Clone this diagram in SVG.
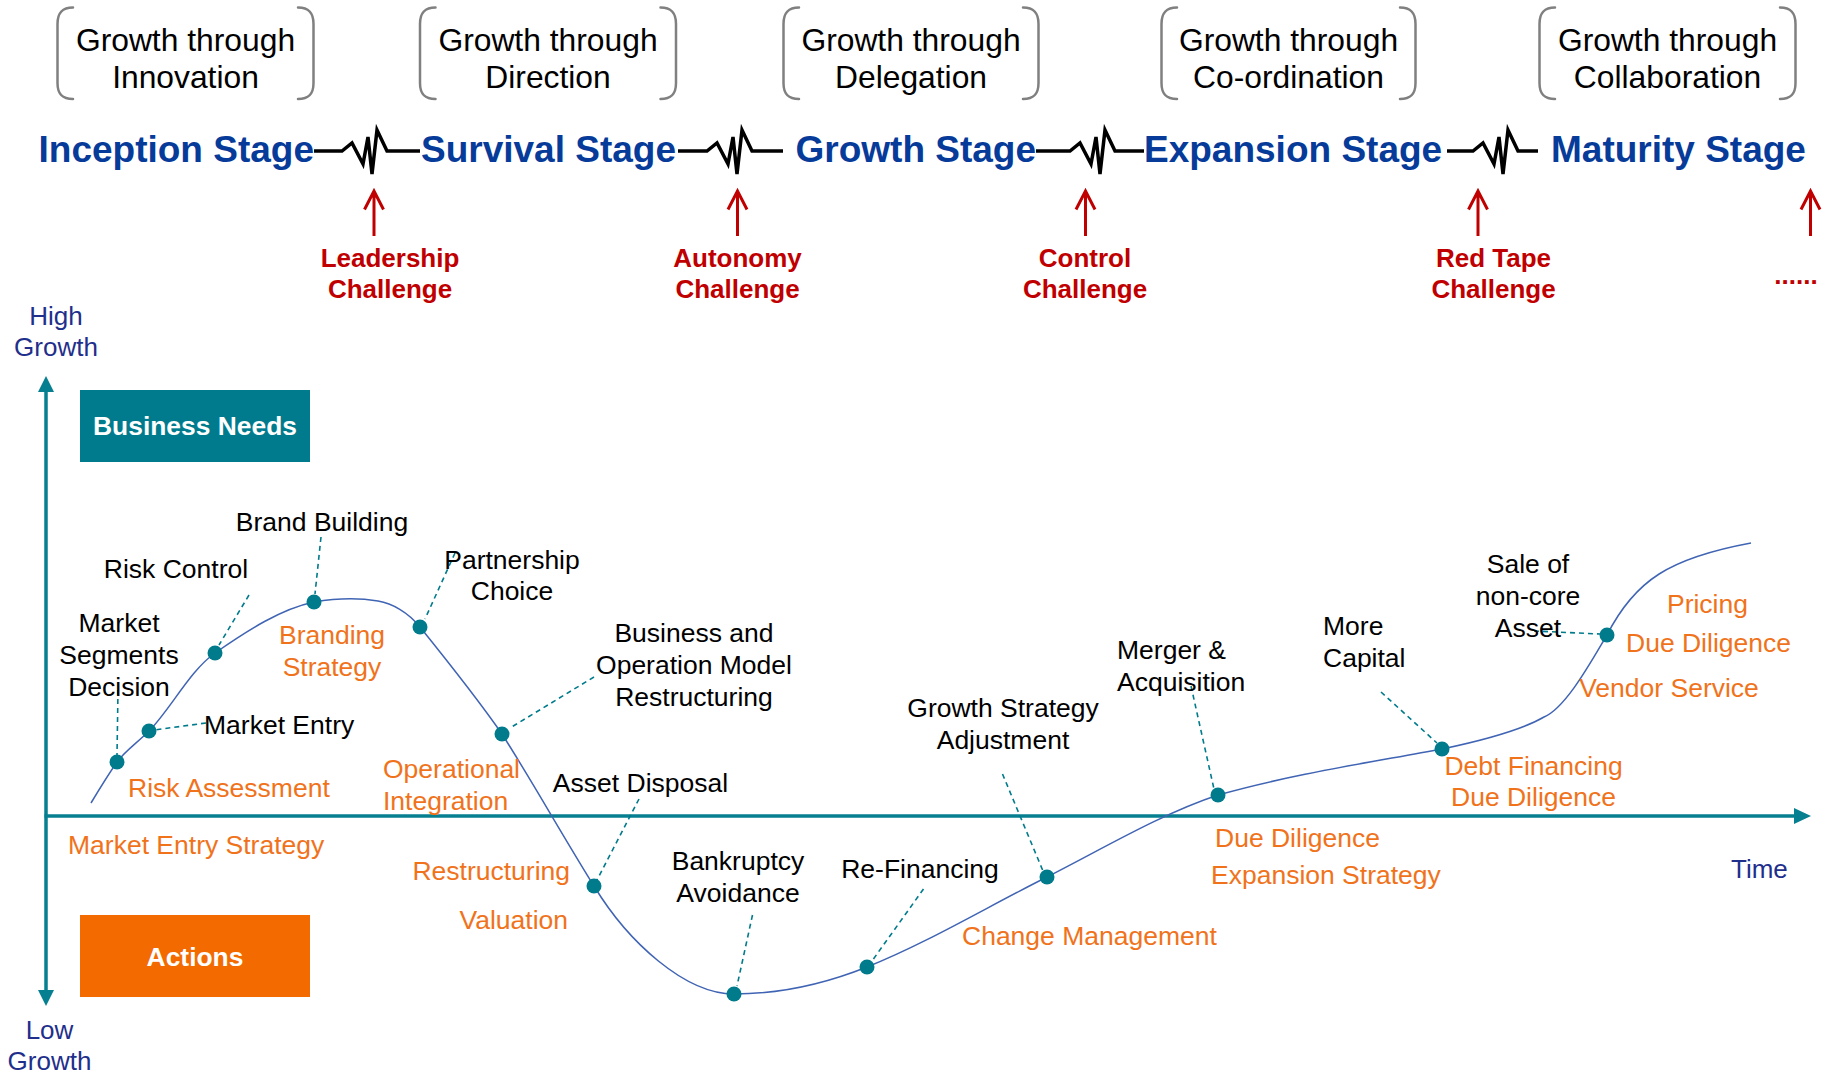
<svg xmlns="http://www.w3.org/2000/svg" width="1835" height="1073" viewBox="0 0 1835 1073">
<defs>
<style>
text{font-family:"Liberation Sans",Arial,sans-serif;}
.br{fill:none;stroke:#808080;stroke-width:2.5;stroke-linecap:round}
.bt{font-size:31.8px;fill:#000;text-anchor:middle}
.st{font-size:37px;font-weight:bold;fill:#073b9a}
.zz{fill:none;stroke:#000;stroke-width:3.5;stroke-linejoin:miter}
.ch{font-size:26px;font-weight:bold;fill:#c00000;text-anchor:middle}
.ar{fill:none;stroke:#c00000;stroke-width:3}
.nv{font-size:26px;fill:#1f2f8c}
.lb{font-size:26.5px;fill:#000}
.or{font-size:26.5px;fill:#f0731c}
.m{text-anchor:middle}
.ld{fill:none;stroke:#007b8c;stroke-width:1.6;stroke-dasharray:5 4}
.dt{fill:#007b8c}
.ax{fill:none;stroke:#067f90;stroke-width:3.5}
.axh{fill:#067f90}
.bx{font-size:26.4px;font-weight:bold;fill:#fff;text-anchor:middle}
</style>
</defs>
<rect width="1835" height="1073" fill="#fff"/>

<!-- top brackets -->
<g id="phase-innovation">
<path class="br" d="M73,7.5 C62,7.5 57.5,13 57.5,24 V83 C57.5,94 62,99 73,99"/>
<path class="br" d="M298,7.5 C309,7.5 313.5,13 313.5,24 V83 C313.5,94 309,99 298,99"/>
<text class="bt" x="185.5" y="51">Growth through</text>
<text class="bt" x="185.5" y="88">Innovation</text>
</g>
<g id="phase-direction">
<path class="br" d="M435.5,7.5 C424.5,7.5 420,13 420,24 V83 C420,94 424.5,99 435.5,99"/>
<path class="br" d="M660.5,7.5 C671.5,7.5 676,13 676,24 V83 C676,94 671.5,99 660.5,99"/>
<text class="bt" x="548" y="51">Growth through</text>
<text class="bt" x="548" y="88">Direction</text>
</g>
<g id="phase-delegation">
<path class="br" d="M799,7.5 C788,7.5 783.5,13 783.5,24 V83 C783.5,94 788,99 799,99"/>
<path class="br" d="M1023,7.5 C1034,7.5 1038.5,13 1038.5,24 V83 C1038.5,94 1034,99 1023,99"/>
<text class="bt" x="911" y="51">Growth through</text>
<text class="bt" x="911" y="88">Delegation</text>
</g>
<g id="phase-coordination">
<path class="br" d="M1177,7.5 C1166,7.5 1161.5,13 1161.5,24 V83 C1161.5,94 1166,99 1177,99"/>
<path class="br" d="M1400,7.5 C1411,7.5 1415.5,13 1415.5,24 V83 C1415.5,94 1411,99 1400,99"/>
<text class="bt" x="1288.5" y="51">Growth through</text>
<text class="bt" x="1288.5" y="88">Co-ordination</text>
</g>
<g id="phase-collaboration">
<path class="br" d="M1555,7.5 C1544,7.5 1539.5,13 1539.5,24 V83 C1539.5,94 1544,99 1555,99"/>
<path class="br" d="M1780,7.5 C1791,7.5 1795.5,13 1795.5,24 V83 C1795.5,94 1791,99 1780,99"/>
<text class="bt" x="1667.5" y="51">Growth through</text>
<text class="bt" x="1667.5" y="88">Collaboration</text>
</g>

<!-- stages -->
<g id="stage-inception"><text class="st" x="38.5" y="162">Inception Stage</text></g>
<g id="stage-survival"><text class="st" x="421" y="162">Survival Stage</text></g>
<g id="stage-growth"><text class="st" x="795.5" y="162">Growth Stage</text></g>
<g id="stage-expansion"><text class="st" x="1144" y="162">Expansion Stage</text></g>
<g id="stage-maturity"><text class="st" x="1551" y="162">Maturity Stage</text></g>

<!-- challenges -->
<g id="challenge-leadership">
<path class="ar" d="M374,236 V191 M364.5,209.5 L374,191 L383.5,209.5"/>
<text class="ch" x="390" y="267">Leadership</text>
<text class="ch" x="390" y="298">Challenge</text>
</g>
<g id="challenge-autonomy">
<path class="ar" d="M737.5,236 V191 M728,209.5 L737.5,191 L747,209.5"/>
<text class="ch" x="737.5" y="267">Autonomy</text>
<text class="ch" x="737.5" y="298">Challenge</text>
</g>
<g id="challenge-control">
<path class="ar" d="M1085.5,236 V191 M1076,209.5 L1085.5,191 L1095,209.5"/>
<text class="ch" x="1085" y="267">Control</text>
<text class="ch" x="1085" y="298">Challenge</text>
</g>
<g id="challenge-redtape">
<path class="ar" d="M1478,236 V191 M1468.5,209.5 L1478,191 L1487.5,209.5"/>
<text class="ch" x="1493.5" y="267">Red Tape</text>
<text class="ch" x="1493.5" y="298">Challenge</text>
</g>
<g id="challenge-more">
<path class="ar" d="M1810.5,236 V191 M1801,209.5 L1810.5,191 L1820,209.5"/>
<text class="ch" x="1796" y="284">......</text>
</g>

<!-- axis labels -->
<g id="label-high"><text class="nv m" x="56" y="325">High</text><text class="nv m" x="56" y="356">Growth</text></g>
<g id="label-low"><text class="nv m" x="49.5" y="1039">Low</text><text class="nv m" x="49.5" y="1070">Growth</text></g>
<g id="label-time"><text class="nv" x="1731" y="878">Time</text></g>

<!-- boxes -->
<g id="box-business-needs"><rect x="80" y="390" width="230" height="72" fill="#007b8e"/><text class="bx" x="195" y="435">Business Needs</text></g>
<g id="box-actions"><rect x="80" y="915" width="230" height="82" fill="#f26a00"/><text class="bx" x="195" y="966">Actions</text></g>

<!-- connectors -->
<g id="connectors">
<!-- stage breaks -->
<path class="zz" d="M314,151 H342 L352,143 L363,164 L368,137 L372,174 L377,130 L387,151 H420"/>
<path class="zz" d="M678,151 H707 L717,143 L728,164 L733,137 L737,174 L742,130 L752,151 H783"/>
<path class="zz" d="M1036,151 H1070 L1080,143 L1091,164 L1096,137 L1100,174 L1105,130 L1115,151 H1144"/>
<path class="zz" d="M1447,151 H1473 L1483,143 L1494,164 L1499,137 L1503,174 L1508,130 L1518,151 H1538"/>
<!-- axes -->
<path class="ax" d="M46,389 V992"/>
<path class="axh" d="M46,376 L54,392 L38,392 Z"/>
<path class="axh" d="M46,1006 L54,990 L38,990 Z"/>
<path class="ax" d="M44.5,816 H1796"/>
<path class="axh" d="M1811,816 L1794,808 L1794,824 Z"/>
<!-- growth curve -->
<path fill="none" stroke="#4064b4" stroke-width="1.5" d="M91,803 C100,788 108,775 117,762 C125,751 137,743 149,731 C170,710 190,670.5 215,653 C248,630 281,609 314,602 C335,598.5 360,598 378,601 C392,603.4 408,612 420,627 C445,658 477,698 502,734 C532,781 564,838 594,886 C628,942 685,994 734,994 C779,994 822,985 867,967 C927,943 987,907 1047,877 C1104,848 1161,814 1218,795 C1293,774 1367,763 1442,749 C1480,741 1520,731 1544,717 C1566,708 1592,660 1607,635 C1635,580 1670,558 1751,543"/>
<!-- leaders -->
<path class="ld" d="M118,690 L117,755"/>
<path class="ld" d="M206,723 L154,730"/>
<path class="ld" d="M249,595 L219,645"/>
<path class="ld" d="M321,537 L315,594"/>
<path class="ld" d="M455,553 L425,619"/>
<path class="ld" d="M594,677 L510,728"/>
<path class="ld" d="M639,799 L597,880"/>
<path class="ld" d="M752.5,915 L737,986"/>
<path class="ld" d="M923.5,889 L872,961"/>
<path class="ld" d="M1002.5,774 L1043,871"/>
<path class="ld" d="M1191,686 L1214,789"/>
<path class="ld" d="M1381,692 L1437,743"/>
<path class="ld" d="M1534,631 L1600,634"/>
</g>

<!-- curve nodes -->
<g id="node-market-segments"><circle class="dt" cx="117" cy="762" r="7.5"/><text class="lb m" x="119" y="632">Market</text><text class="lb m" x="119" y="664">Segments</text><text class="lb m" x="119" y="696">Decision</text></g>
<g id="node-market-entry"><circle class="dt" cx="149" cy="731" r="7.5"/><text class="lb" x="204" y="734">Market Entry</text></g>
<g id="node-risk-control"><circle class="dt" cx="215" cy="653" r="7.5"/><text class="lb m" x="176" y="578">Risk Control</text></g>
<g id="node-brand-building"><circle class="dt" cx="314" cy="602" r="7.5"/><text class="lb m" x="322" y="531">Brand Building</text></g>
<g id="node-partnership"><circle class="dt" cx="420" cy="627" r="7.5"/><text class="lb m" x="512" y="569">Partnership</text><text class="lb m" x="512" y="600">Choice</text></g>
<g id="node-business-model"><circle class="dt" cx="502" cy="734" r="7.5"/><text class="lb m" x="694" y="642">Business and</text><text class="lb m" x="694" y="674">Operation Model</text><text class="lb m" x="694" y="706">Restructuring</text></g>
<g id="node-asset-disposal"><circle class="dt" cx="594" cy="886" r="7.5"/><text class="lb m" x="640.5" y="792">Asset Disposal</text></g>
<g id="node-bankruptcy"><circle class="dt" cx="734" cy="994" r="7.5"/><text class="lb m" x="738" y="870">Bankruptcy</text><text class="lb m" x="738" y="902">Avoidance</text></g>
<g id="node-refinancing"><circle class="dt" cx="867" cy="967" r="7.5"/><text class="lb m" x="920" y="878">Re-Financing</text></g>
<g id="node-growth-strategy"><circle class="dt" cx="1047" cy="877" r="7.5"/><text class="lb m" x="1003" y="717">Growth Strategy</text><text class="lb m" x="1003" y="749">Adjustment</text></g>
<g id="node-merger"><circle class="dt" cx="1218" cy="795" r="7.5"/><text class="lb" x="1117" y="659">Merger &amp;</text><text class="lb" x="1117" y="691">Acquisition</text></g>
<g id="node-more-capital"><circle class="dt" cx="1442" cy="749" r="7.5"/><text class="lb" x="1323" y="635">More</text><text class="lb" x="1323" y="667">Capital</text></g>
<g id="node-sale"><circle class="dt" cx="1607" cy="635" r="7.5"/><text class="lb m" x="1528" y="573">Sale of</text><text class="lb m" x="1528" y="605">non-core</text><text class="lb m" x="1528" y="637">Asset</text></g>

<!-- actions (orange) -->
<g id="action-branding"><text class="or m" x="332" y="644">Branding</text><text class="or m" x="332" y="676">Strategy</text></g>
<g id="action-risk-assessment"><text class="or" x="128" y="797">Risk Assessment</text></g>
<g id="action-operational"><text class="or" x="383" y="778">Operational</text><text class="or" x="383" y="810">Integration</text></g>
<g id="action-market-entry-strategy"><text class="or" x="68" y="854">Market Entry Strategy</text></g>
<g id="action-restructuring"><text class="or" x="570" y="880" text-anchor="end">Restructuring</text></g>
<g id="action-valuation"><text class="or" x="568" y="929" text-anchor="end">Valuation</text></g>
<g id="action-change"><text class="or" x="962" y="945">Change Management</text></g>
<g id="action-expansion"><text class="or" x="1215" y="847">Due Diligence</text><text class="or" x="1211" y="884">Expansion Strategy</text></g>
<g id="action-debt"><text class="or m" x="1533.5" y="775">Debt Financing</text><text class="or m" x="1533.5" y="806">Due Diligence</text></g>
<g id="action-pricing"><text class="or m" x="1707.5" y="613">Pricing</text><text class="or m" x="1708.5" y="652">Due Diligence</text></g>
<g id="action-vendor"><text class="or m" x="1669" y="697">Vendor Service</text></g>
</svg>
